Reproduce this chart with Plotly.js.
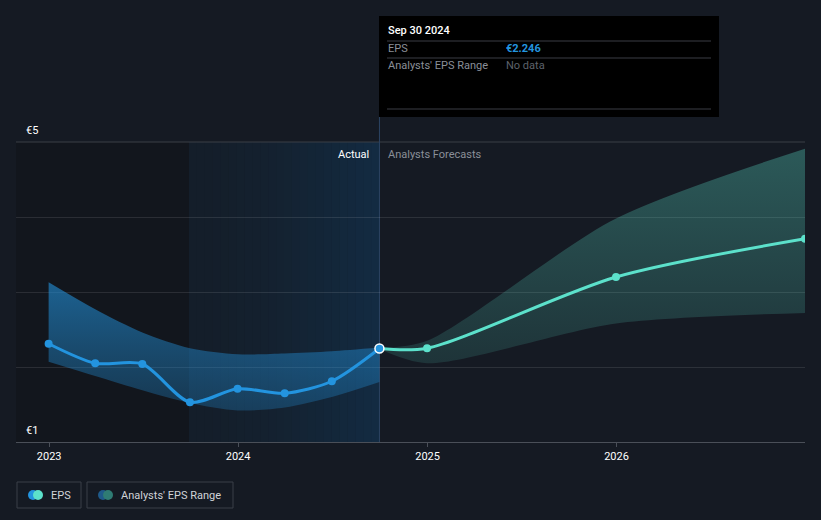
<!DOCTYPE html>
<html><head><meta charset="utf-8">
<script src="https://cdn.plot.ly/plotly-3.0.1.min.js"></script>
<style>html,body{margin:0;padding:0;background:#151a23;}#chart{width:821px;height:520px;}</style>
</head><body><div id="chart"></div>
<script>
// ---- data ----
const pastDates = ['2022-12-31','2023-03-31','2023-06-30','2023-09-30','2023-12-31','2024-03-31','2024-06-30','2024-09-30'];
const pastEPS   = [2.31, 2.05, 2.04, 1.53, 1.71, 1.65, 1.81, 2.246];
const pastHigh  = [3.13, 2.77, 2.46, 2.25, 2.17, 2.18, 2.21, 2.26];
const pastLow   = [2.07, 1.88, 1.69, 1.52, 1.42, 1.46, 1.60, 1.80];
const fcDates   = ['2024-09-30','2024-12-31','2025-12-31','2026-12-31'];
const fcEPS     = [2.246, 2.25, 3.20, 3.71];
const fcHigh    = [2.25, 2.35, 3.98, 4.91];
const fcLow     = [2.24, 2.05, 2.58, 2.72];
const yTickText = ['€1', '€5'];
const xTickVals = ['2023-01-01','2024-01-01','2025-01-01','2026-01-01'];
const xTickText = ['2023','2024','2025','2026'];
const xRange    = ['2022-10-29','2026-12-31'];
const pastStart = '2023-09-30';
const nowDate   = '2024-09-30';
const tipDate   = 'Sep 30 2024';
const tipEPS    = '€2.246';

// ---- layout helpers ----
const W = 821, H = 520, L = 16, R = 805, T = 142, B = 442;
const px = v => (v - L) / (R - L);
const py = v => (B - v) / (B - T);
const FONT = 'Roboto, "Open Sans", sans-serif';

const traces = [
  { x: pastDates, y: pastLow, mode: 'lines', line: { width: 0, shape: 'spline', smoothing: 0.8 }, hoverinfo: 'skip', showlegend: false },
  { x: pastDates, y: pastHigh, mode: 'lines', line: { width: 0, shape: 'spline', smoothing: 0.8 }, fill: 'tonexty',
    fillgradient: { type: 'vertical', colorscale: [[0,'rgba(35,148,223,0.26)'],[0.5,'rgba(35,148,223,0.42)'],[1,'rgba(35,148,223,0.6)']] },
    hoverinfo: 'skip', showlegend: false },
  { x: fcDates, y: fcLow, mode: 'lines', line: { width: 0, shape: 'spline', smoothing: 0.8 }, hoverinfo: 'skip', showlegend: false },
  { x: fcDates, y: fcHigh, mode: 'lines', line: { width: 0, shape: 'spline', smoothing: 0.8 }, fill: 'tonexty',
    fillgradient: { type: 'vertical', colorscale: [[0,'rgba(92,225,203,0.13)'],[1,'rgba(92,225,203,0.32)']] },
    hoverinfo: 'skip', showlegend: false },
  { x: pastDates, y: pastEPS, mode: 'lines+markers', line: { color: '#2394df', width: 3, shape: 'spline', smoothing: 0.8 },
    marker: { color: '#2394df', size: 8 }, showlegend: false },
  { x: fcDates, y: fcEPS, mode: 'lines+markers', line: { color: '#5ce1cb', width: 3, shape: 'spline', smoothing: 0.8 },
    marker: { color: '#5ce1cb', size: 8 }, showlegend: false },
  { x: [nowDate], y: [pastEPS[pastEPS.length-1]], mode: 'markers',
    marker: { color: '#2394df', size: 9, line: { color: '#ffffff', width: 1.5 } }, showlegend: false }
];

// background regions (below gridlines)
const shapes = [
  { type: 'rect', xref: 'x', yref: 'paper', x0: xRange[0], x1: pastStart, y0: 0, y1: 1, fillcolor: '#12161d', line: { width: 0 }, layer: 'below' }
];
// horizontal gradient for the "last 12 months" band, as thin strips
const g0 = [20, 30, 42], g1 = [19, 43, 66], NS = 24;
for (let i = 0; i < NS; i++) {
  const t = Math.pow(i / (NS - 1), 1.6);
  const c = g0.map((v, k) => Math.round(v + (g1[k] - v) * t));
  shapes.push({ type: 'rect', xref: 'paper', yref: 'paper',
    x0: px(189) + (px(379) - px(189)) * i / NS, x1: px(189) + (px(379) - px(189)) * (i + 1) / NS + 0.0005,
    y0: 0, y1: 1, fillcolor: 'rgb(' + c.join(',') + ')', line: { width: 0 }, layer: 'below' });
}
shapes.push(
  { type: 'line', xref: 'paper', yref: 'paper', x0: 0, x1: 1, y0: 1, y1: 1, line: { color: '#3a3e46', width: 1 }, layer: 'below' },
  // vertical "now" line
  { type: 'line', xref: 'x', yref: 'paper', x0: nowDate, x1: nowDate, y0: 0, y1: py(117), line: { color: '#2c4563', width: 1 }, layer: 'below' },
  // tooltip box
  { type: 'rect', xref: 'paper', yref: 'paper', x0: px(379), x1: px(719), y0: py(117), y1: py(16), fillcolor: '#000000', line: { width: 0 } },
  { type: 'line', xref: 'paper', yref: 'paper', x0: px(387), x1: px(711), y0: py(41), y1: py(41), line: { color: '#3a3d44', width: 1 } },
  { type: 'line', xref: 'paper', yref: 'paper', x0: px(387), x1: px(711), y0: py(58), y1: py(58), line: { color: '#3a3d44', width: 1 } },
  { type: 'line', xref: 'paper', yref: 'paper', x0: px(387), x1: px(711), y0: py(109), y1: py(109), line: { color: '#3a3d44', width: 1 } },
  // legend boxes
  { type: 'rect', xref: 'paper', yref: 'paper', x0: px(17), x1: px(81), y0: py(508), y1: py(482), line: { color: '#3a3f48', width: 1 } },
  { type: 'rect', xref: 'paper', yref: 'paper', x0: px(87), x1: px(233), y0: py(508), y1: py(482), line: { color: '#3a3f48', width: 1 } },
  { type: 'circle', xref: 'paper', yref: 'paper', x0: px(28), x1: px(38), y0: py(500), y1: py(490), fillcolor: '#2394df', line: { width: 0 } },
  { type: 'circle', xref: 'paper', yref: 'paper', x0: px(33), x1: px(43), y0: py(500), y1: py(490), fillcolor: '#5ce1cb', line: { width: 0 } },
  { type: 'circle', xref: 'paper', yref: 'paper', x0: px(98), x1: px(108), y0: py(500), y1: py(490), fillcolor: '#1f5a8a', line: { width: 0 } },
  { type: 'circle', xref: 'paper', yref: 'paper', x0: px(103), x1: px(113), y0: py(500), y1: py(490), fillcolor: '#2f7c74', line: { width: 0 } }
);

const ann = (text, x, y, opts) => Object.assign({ text, xref: 'paper', yref: 'paper', x: px(x), y: py(y),
  xanchor: 'left', yanchor: 'middle', showarrow: false, font: { family: FONT, size: 11, color: '#ffffff' } }, opts || {});

const annotations = [
  ann(yTickText[1], 24, 130, { font: { family: FONT, size: 11, color: '#ffffff' } }),
  ann(yTickText[0], 24, 430, { font: { family: FONT, size: 11, color: '#ffffff' } }),
  ann('Actual', 371, 154, { xanchor: 'right', font: { family: FONT, size: 11, color: '#ffffff' } }),
  ann('Analysts Forecasts', 386, 154, { font: { family: FONT, size: 11, color: '#8a8f98' } }),
  ann(tipDate, 386, 31, { font: { family: FONT, size: 11, color: '#ffffff', weight: 500 } }),
  ann('EPS', 386, 49, { font: { family: FONT, size: 11, color: '#8a8f98' } }),
  ann('<b>' + tipEPS + '</b>', 504, 49, { font: { family: FONT, size: 11, color: '#2394df' } }),
  ann("Analysts' EPS Range", 386, 66, { font: { family: FONT, size: 11, color: '#8a8f98' } }),
  ann('No data', 504, 66, { font: { family: FONT, size: 11, color: '#5d626b' } }),
  ann('EPS', 49, 495, { font: { family: FONT, size: 11, color: '#d0d3d8' } }),
  ann("Analysts' EPS Range", 119, 495, { font: { family: FONT, size: 11, color: '#d0d3d8' } })
];

const layout = {
  width: W, height: H,
  margin: { l: L, r: W - R, t: T, b: H - B, pad: 0 },
  paper_bgcolor: '#151a23', plot_bgcolor: '#151a23',
  font: { family: FONT, size: 11, color: '#ffffff' },
  showlegend: false,
  hovermode: false,
  xaxis: { type: 'date', range: xRange, tickvals: xTickVals, ticktext: xTickText, showgrid: false, zeroline: false,
    showline: true, linecolor: '#4a4f58', linewidth: 1, ticks: 'outside', ticklen: 4, tickcolor: '#4a4f58',
    tickfont: { family: FONT, size: 11, color: '#ffffff' }, fixedrange: true },
  yaxis: { range: [1, 5], dtick: 1, tick0: 1, showticklabels: false, showgrid: true, gridcolor: 'rgba(255,255,255,0.1)', gridwidth: 1,
    zeroline: false, showline: false, fixedrange: true },
  shapes, annotations
};

Plotly.newPlot('chart', traces, layout, { displayModeBar: false, staticPlot: true });
</script></body></html>
